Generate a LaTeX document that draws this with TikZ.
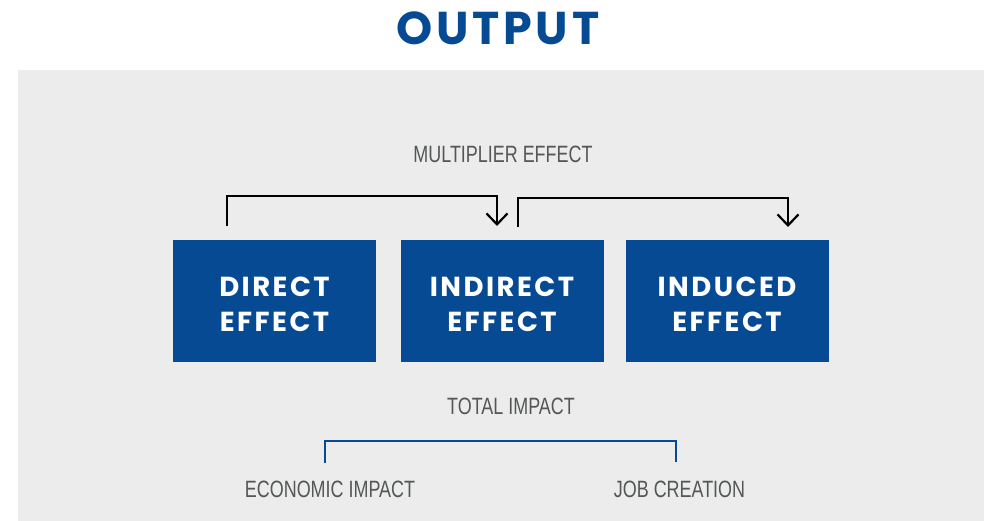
\documentclass[tikz,border=0pt]{standalone}
\usepackage{fontspec}
\usetikzlibrary{arrows.meta}
\newfontfamily\titlefont{Poppins}[LetterSpace=8]
\newfontfamily\boxfont{Poppins}[LetterSpace=9]
\newfontfamily\condfont{Liberation Sans}[FakeStretch=0.76]
\definecolor{brandblue}{HTML}{064A94}
\definecolor{panelgrey}{HTML}{EBECEB}
\definecolor{textgrey}{HTML}{555658}
\newcommand\twolines[2]{\raisebox{-5.5pt}[\height][\depth]{\begin{tabular}{@{}c@{}}#1\\#2\end{tabular}}}
\tikzset{
  effectbox/.style={fill=brandblue, text=white, minimum width=203pt, minimum height=122pt,
    inner sep=0pt, font=\boxfont\bfseries\fontsize{27.5}{35}\selectfont},
  greylabel/.style={text=textgrey, anchor=base, inner sep=0pt, font=\condfont\fontsize{23.6}{26}\selectfont},
  flowarrow/.style={draw=black, line width=2.2pt, -{Straight Barb[length=11pt,width=21pt,line width=2.2pt]}},
  bluebracket/.style={draw=brandblue, line width=2.4pt}
}
\begin{document}
\begin{tikzpicture}[x=1pt,y=-1pt]
\useasboundingbox (0,0) rectangle (984,521);
\fill[panelgrey] (18,70) rectangle (984,521);
\node[text=brandblue, anchor=base, inner sep=0pt, font=\titlefont\bfseries\fontsize{46}{50}\selectfont] (title) at (498,45) {OUTPUT};
\node[greylabel] (mult) at (503,163) {MULTIPLIER EFFECT};
\node[effectbox] (direct) at (274.5,301) {\twolines{DIRECT}{EFFECT}};
\node[effectbox] (indirect) at (502,301) {\twolines{INDIRECT}{EFFECT}};
\node[effectbox] (induced) at (727,301) {\twolines{INDUCED}{EFFECT}};
\coordinate (s1) at (227,226);
\coordinate (c1) at (497,196);
\coordinate (t1) at (497,226);
\coordinate (s2) at (518,227);
\coordinate (c2) at (788,198);
\coordinate (t2) at (788,227);
\draw[flowarrow] (s1) |- (c1) -- (t1);
\draw[flowarrow] (s2) |- (c2) -- (t2);
\node[greylabel] (total) at (511,414) {TOTAL IMPACT};
\coordinate (b1) at (325,463);
\coordinate (b2) at (676,441);
\coordinate (b3) at (676,462);
\draw[bluebracket] (b1) |- (b2) -- (b3);
\node[greylabel] (econ) at (330,497) {ECONOMIC IMPACT};
\node[greylabel] (jobs) at (679.5,497) {JOB CREATION};
\end{tikzpicture}
\end{document}
